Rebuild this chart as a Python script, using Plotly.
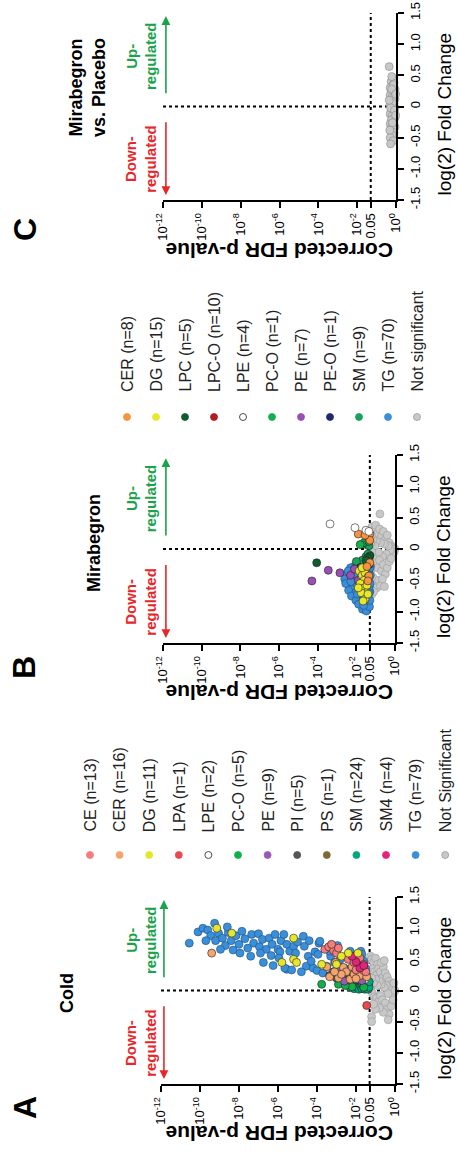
import math
import plotly.graph_objects as go

W, H = 457, 1154
FONT = "Liberation Sans"

# ---------------- DATA: (-log10 FDR p, log2 fold change) ----------------
# Panel A: Cold
A_CE = [(3.6,0.66),(3.4,0.70),(3.15,0.64),(3.0,0.60),(3.25,0.74),(2.9,0.68),(2.4,0.50),(2.1,0.45),
        (1.8,0.52),(1.6,0.42),(2.0,0.33),(1.5,0.30),(1.75,0.38)]
A_CER = [(9.4,0.60),(3.5,0.38),(2.9,0.20),(3.35,0.22),(2.65,0.37),(2.5,0.30),(2.3,0.18),(2.1,0.26),
         (1.8,0.24),(1.45,0.22),(1.6,0.32),(2.0,0.19),(2.75,0.26),(3.1,0.30),(3.05,0.45),(2.2,0.38)]
A_DG = [(9.14,1.0),(8.37,0.92),(5.2,0.84),(5.8,0.45),(5.2,0.50),(5.05,0.45),(3.76,0.42),
        (2.4,0.60),(1.9,0.60),(3.0,0.42),(2.75,0.55)]
A_LPA = [(1.45,-0.24)]
A_LPE = [(1.55,0.18),(2.45,0.22)]
A_PCO = [(3.76,0.10),(2.9,0.10),(2.2,0.06),(1.6,0.05),(2.55,0.08)]
A_PE = [(3.15,0.30),(2.95,0.28),(2.7,0.25),(2.4,0.33),(2.85,0.38),(1.9,0.28),(2.15,0.20),(2.6,0.15),(1.7,0.16)]
A_PI = [(3.35,0.24),(3.0,0.20),(2.5,0.18),(1.95,0.17),(2.3,0.26)]
A_PS = [(2.05,0.22)]
A_SM = [(2.3,0.05),(2.2,0.12),(2.1,0.03),(2.05,0.09),(2.0,0.14),(1.95,0.05),(1.9,0.10),(1.85,0.02),
        (1.8,0.13),(1.75,0.07),(1.7,0.03),(1.68,0.11),(1.62,0.06),(1.58,0.14),(1.55,0.02),(1.5,0.09),
        (1.47,0.04),(1.44,0.12),(1.4,0.07),(1.38,0.02),(1.35,0.10),(1.33,0.05),(1.32,0.14),(2.15,0.15)]
A_SM4 = [(1.8,0.36),(2.0,0.46),(1.6,0.40),(2.2,0.55)]
A_TG = [(10.55,0.76),(10.1,0.94),(9.85,1.00),(9.25,1.08),(9.6,0.97),(9.45,0.88),(9.05,0.92),(9.2,0.80),
        (8.85,0.84),(8.7,0.72),(8.95,0.66),(8.55,0.93),(8.4,0.80),(8.15,0.88),(8.0,0.74),(7.85,0.95),
        (7.7,0.83),(7.55,0.68),(7.35,0.90),(7.25,0.76),(7.0,0.91),(6.95,0.70),(6.8,0.82),(6.6,0.66),
        (6.45,0.84),(6.3,0.74),(6.15,0.90),(6.0,0.66),(5.85,0.80),(5.7,0.90),(5.55,0.74),(5.4,0.63),
        (5.9,0.62),(6.75,0.45),(6.25,0.40),(5.55,0.34),(5.65,0.36),(5.3,0.33),(4.55,0.39),(4.2,0.36),
        (4.0,0.32),(3.5,0.39),(4.7,0.87),(5.2,0.71),(4.65,0.71),(5.0,0.78),(4.4,0.80),(3.9,0.76),
        (4.1,0.62),(3.3,0.55),(3.1,0.45),(3.35,0.63),(2.3,0.63),(1.75,0.63),(1.7,0.58),(2.8,0.50),
        (4.45,0.55),(4.8,0.30),(3.7,0.28),(2.6,0.36),(2.1,0.40),(1.6,0.47),(9.7,0.80),(8.3,0.65),
        (7.95,0.60),(6.9,0.60),(6.35,0.56),(5.95,0.52),(7.4,0.55),(5.1,0.60),(4.3,0.47),(3.95,0.58),
        (2.95,0.72),(1.95,0.32),(2.2,0.22),(1.5,0.35),(3.15,0.30),(8.6,1.02),(3.85,0.79)]
A_NS = [(1.25,0.55),(1.2,0.50),(1.1,0.45),(1.0,0.52),(0.9,0.42),(1.15,0.35),(1.05,0.30),(0.95,0.25),
        (0.85,0.35),(0.75,0.30),(0.65,0.20),(0.6,0.38),(0.5,0.28),(0.4,0.22),(0.3,0.15),(0.2,0.10),
        (0.1,0.05),(0.05,-0.02),(0.15,-0.08),(0.25,0.02),(0.35,-0.05),(0.45,0.08),(0.55,0.05),(0.7,0.10),
        (0.8,0.15),(0.9,0.08),(1.0,0.18),(1.1,0.12),(1.2,0.20),(1.25,0.02),(1.15,-0.05),(1.05,-0.10),
        (0.95,-0.12),(0.85,-0.18),(0.75,-0.08),(0.65,-0.15),(0.5,-0.20),(0.4,-0.30),(0.3,-0.38),
        (0.35,-0.47),(0.6,-0.35),(0.8,-0.28),(1.0,-0.30),(1.2,-0.42),(1.2,-0.50),(1.1,-0.22),
        (0.2,-0.25),(0.1,-0.15),(0.0,0.0),(0.05,0.12),(0.7,0.45),(0.55,0.48)]

# Panel B: Mirabegron
B_CER = [(1.9,0.24),(1.3,0.24),(1.3,0.14),(1.55,0.22),(1.3,-0.22),(1.35,-0.43),(1.4,-0.51),(1.45,-0.28)]
B_DG = [(1.85,-0.35),(1.7,-0.42),(1.55,-0.38),(1.4,-0.45),(1.6,-0.50),(1.8,-0.55),(1.6,-0.62),(1.45,-0.58),
        (1.5,-0.70),(1.75,-0.70),(1.55,-0.80),(1.4,-0.72),(1.65,-0.83),(1.9,-0.62),(1.7,-0.30)]
B_LPC = [(4.05,-0.22),(1.3,-0.11),(1.4,-0.14),(1.5,-0.18),(1.35,-0.25)]
B_LPCO = [(1.5,-0.35),(1.6,-0.45),(1.7,-0.55),(1.4,-0.6),(1.8,-0.4),(1.55,-0.5),(1.45,-0.42),
          (1.65,-0.62),(1.35,-0.35),(1.75,-0.3)]
B_LPE = [(3.36,0.40),(2.07,0.34),(1.5,0.3),(1.35,0.28)]
B_PCO = [(1.8,0.07)]
B_PE = [(3.45,-0.34),(2.85,-0.38),(4.3,-0.51),(2.3,-0.42),(1.9,-0.5),(2.1,-0.32),(1.6,-0.4)]
B_PEO = [(1.8,-0.30)]
B_SM = [(1.47,0.07),(1.35,0.05),(1.6,0.10),(1.3,-0.1),(1.5,-0.12),(1.7,-0.18),(1.4,-0.08),(2.0,-0.2),(1.35,0.12)]
B_TG = [(2.5,-0.40),(2.45,-0.50),(2.35,-0.58),(2.3,-0.45),(2.2,-0.35),(2.15,-0.62),(2.1,-0.52),(2.05,-0.70),
        (2.0,-0.42),(1.95,-0.30),(1.9,-0.60),(1.85,-0.75),(1.8,-0.50),(1.75,-0.38),(1.7,-0.82),(1.68,-0.96),
        (1.65,-0.65),(1.6,-0.55),(1.55,-0.72),(1.5,-0.45),(1.48,-0.99),(1.45,-0.85),(1.42,-0.62),(1.4,-0.35),
        (1.38,-0.78),(1.35,-0.52),(1.32,-0.92),(1.3,-0.68),(1.28,-0.42),(1.27,-0.28),(2.6,-0.48),(2.4,-0.66),
        (2.25,-0.75),(2.12,-0.28),(2.02,-0.82),(1.92,-0.45),(1.88,-0.88),(1.78,-0.62),(1.72,-0.25),(1.62,-0.90),
        (1.58,-0.35),(1.52,-0.58),(1.46,-0.72),(1.44,-0.22),(1.36,-0.45),(1.33,-0.60),(1.3,-0.82),(1.29,-0.55),
        (1.3,-0.3),(1.35,-0.18),(2.3,-0.3),(2.2,-0.48),(1.98,-0.55),(1.83,-0.33),(1.76,-0.70),(1.66,-0.48),
        (1.56,-0.82),(1.5,-0.65),(1.41,-0.50),(1.34,-0.70),(2.55,-0.55),(2.42,-0.35),(2.28,-0.52),(2.08,-0.40),
        (1.94,-0.72),(1.86,-0.55),(1.74,-0.45),(1.64,-0.28),(1.54,-0.40),(1.47,-0.30)]
B_NS = [(0.78,0.56),(1.2,0.35),(1.1,0.30),(1.0,0.38),(0.9,0.25),(0.8,0.32),(0.7,0.20),(0.6,0.28),(0.5,0.15),
        (0.4,0.22),(0.3,0.10),(0.2,0.05),(0.1,0.02),(0.0,0.0),(0.05,-0.05),(0.15,-0.10),(0.25,-0.02),
        (0.35,0.05),(0.45,-0.08),(0.55,0.08),(0.65,-0.12),(0.75,0.10),(0.85,-0.05),(0.95,0.12),(1.05,0.05),
        (1.15,0.15),(1.25,0.08),(1.2,-0.05),(1.1,-0.15),(1.0,-0.22),(0.9,-0.30),(0.8,-0.18),(0.7,-0.35),
        (0.6,-0.25),(0.5,-0.40),(0.4,-0.30),(0.3,-0.20),(0.2,-0.15),(1.25,-0.35),(1.15,-0.45),(1.05,-0.55),
        (0.95,-0.62),(0.85,-0.50),(0.75,-0.58),(1.2,-0.72),(1.1,-0.68),(0.65,-0.48),(0.55,-0.60),(1.22,0.22)]

# Panel C: Mirabegron vs. Placebo (all not significant)
C_NS = [(0.35,0.64),(0.15,0.45),(0.25,0.40),(0.1,0.38),(0.2,0.33),(0.3,0.30),(0.05,0.28),(0.15,0.25),
        (0.25,0.22),(0.1,0.20),(0.3,0.18),(0.2,0.15),(0.05,0.12),(0.15,0.10),(0.25,0.08),(0.1,0.05),
        (0.3,0.03),(0.2,0.0),(0.05,-0.02),(0.15,-0.05),(0.25,-0.08),(0.1,-0.10),(0.3,-0.12),(0.2,-0.15),
        (0.05,-0.18),(0.15,-0.20),(0.25,-0.22),(0.1,-0.25),(0.3,-0.28),(0.2,-0.30),(0.05,-0.33),(0.15,-0.36),
        (0.25,-0.40),(0.1,-0.42),(0.2,-0.46),(0.3,-0.50),(0.15,-0.55),(0.28,-0.60),(0.12,0.35),(0.22,0.28),
        (0.08,0.15),(0.18,0.06),(0.28,-0.02),(0.08,-0.06),(0.18,-0.26),(0.02,-0.14),(0.32,-0.38),(0.22,0.48),
        (0.35,0.1),(0.02,0.2)]

A_SERIES = [("CE", A_CE, "#f47c7c"), ("CER", A_CER, "#f4a46e"), ("DG", A_DG, "#e6e62a"),
            ("LPA", A_LPA, "#e84a4f"), ("LPE", A_LPE, "#ffffff"), ("PC-O", A_PCO, "#12b04b"),
            ("PE", A_PE, "#9b59b6"), ("PI", A_PI, "#555555"), ("PS", A_PS, "#7d6b35"),
            ("SM", A_SM, "#00a77c"), ("SM4", A_SM4, "#e6217c"), ("TG", A_TG, "#3b8fd9")]
A_NS_LABEL = "Not Significant"
A_DRAW_ORDER = ["TG", "SM", "PC-O", "LPE", "PS", "PI", "PE", "CER", "CE", "SM4", "DG", "LPA"]
B_SERIES = [("CER", B_CER, "#f7923e"), ("DG", B_DG, "#e8e82a"), ("LPC", B_LPC, "#0f5c2e"),
            ("LPC-O", B_LPCO, "#b01c24"), ("LPE", B_LPE, "#ffffff"), ("PC-O", B_PCO, "#13b04b"),
            ("PE", B_PE, "#9a4fb5"), ("PE-O", B_PEO, "#1f2a6b"), ("SM", B_SM, "#17a35a"),
            ("TG", B_TG, "#3b8fd9")]
B_NS_LABEL = "Not significant"
B_DRAW_ORDER = ["LPC-O", "TG", "SM", "PC-O", "LPC", "PE-O", "PE", "DG", "CER", "LPE"]
NS_COLOR = "#c8c8c8"

P_TICKS = [-12, -10, -8, -6, -4, -2, math.log10(0.05), 0]
P_TICKTEXT = ["10<sup>-12</sup>", "10<sup>-10</sup>", "10<sup>-8</sup>", "10<sup>-6</sup>",
              "10<sup>-4</sup>", "10<sup>-2</sup>", "0.05", "10<sup>0</sup>"]
FC_TICKS = [-1.5, -1.0, -0.5, 0, 0.5, 1.0, 1.5]
FC_TICKTEXT = ["-1.5", "-1.0", "-0.5", "0", "0.5", "1.0", "1.5"]

# ---------------- LAYOUT GEOMETRY (pixels in the 457x1154 page) ----------------
PANELS = {
    "A": dict(ax="x", ay="y", xpx=(161, 395), ypx=(1084, 897)),
    "B": dict(ax="x2", ay="y2", xpx=(163, 395), ypx=(643, 455)),
    "C": dict(ax="x3", ay="y3", xpx=(163, 396), ypx=(200, 13)),
}


def px(xp):
    return xp / W


def py(yp):
    return 1 - yp / H


fig = go.Figure()


def add_points(points, color, axes, edge="#333333", size=8):
    xs = [-p for p, f in points]
    ys = [f for p, f in points]
    fig.add_trace(go.Scatter(x=xs, y=ys, mode="markers", xaxis=axes[0], yaxis=axes[1],
                             marker=dict(size=size, color=color, line=dict(color=edge, width=0.6)),
                             showlegend=False, hoverinfo="skip", cliponaxis=False))


def draw_panel(series, ns, order, panel):
    axes = (panel["ax"], panel["ay"])
    add_points(ns, NS_COLOR, axes, edge="#9a9a9a")
    lookup = {n: (pts, col) for n, pts, col in series}
    for name in order:
        pts, col = lookup[name]
        add_points(pts, col, axes, edge="#1c4f80" if name == "TG" else "#222222")


draw_panel(A_SERIES, A_NS, A_DRAW_ORDER, PANELS["A"])
draw_panel(B_SERIES, B_NS, B_DRAW_ORDER, PANELS["B"])
add_points(C_NS, NS_COLOR, (PANELS["C"]["ax"], PANELS["C"]["ay"]), edge="#8a8a8a")

# Legends (manual, rotated text); markers on a transparent full-page pixel axis
LEG_A = dict(x0=90, dx=29.6, ymark=855, ytext=834)
LEG_B = dict(x0=127, dx=29.0, ymark=417, ytext=394)

annotations = []


def ann(x, y, text, size, color="black", angle=-90, xanchor="center", yanchor="middle"):
    annotations.append(dict(x=px(x), y=py(y), xref="paper", yref="paper", text=text, showarrow=False,
                            textangle=angle, xanchor=xanchor, yanchor=yanchor,
                            font=dict(family=FONT, size=size, color=color)))


def legend(series, ns_label, geo):
    entries = [(f"{n} (n={len(p)})", c) for n, p, c in series] + [(ns_label, NS_COLOR)]
    xs = [geo["x0"] + i * geo["dx"] for i in range(len(entries))]
    cols = [c for _, c in entries]
    edges = ["#9a9a9a" if c == NS_COLOR else ("#222222" if c == "#ffffff" else c) for c in cols]
    fig.add_trace(go.Scatter(x=xs, y=[geo["ymark"]] * len(xs), mode="markers", xaxis="x4", yaxis="y4",
                             marker=dict(size=7, color=cols, line=dict(color=edges, width=0.8)),
                             showlegend=False, hoverinfo="skip", cliponaxis=False))
    for (lab, _), x in zip(entries, xs):
        ann(x, geo["ytext"], lab, 16, color="#222222", yanchor="bottom")


legend(A_SERIES, A_NS_LABEL, LEG_A)
legend(B_SERIES, B_NS_LABEL, LEG_B)

layout_axes = {}
shapes = []
for i, (key, p) in enumerate(PANELS.items()):
    sfx = "" if i == 0 else str(i + 1)
    layout_axes["xaxis" + sfx] = dict(
        domain=[px(p["xpx"][0]), px(p["xpx"][1])], anchor=p["ay"], range=[-12, 0],
        tickvals=P_TICKS, ticktext=P_TICKTEXT, tickangle=-90, ticks="outside", ticklen=6,
        tickwidth=1.5, tickcolor="black", showline=True, linewidth=2, linecolor="black",
        showgrid=False, zeroline=False, automargin=False,
        tickfont=dict(family=FONT, size=13, color="black"))
    layout_axes["yaxis" + sfx] = dict(
        domain=[py(p["ypx"][0]), py(p["ypx"][1])], anchor=p["ax"], side="right", range=[-1.5, 1.5],
        tickvals=FC_TICKS, ticktext=FC_TICKTEXT, tickangle=-90, ticks="outside", ticklen=6,
        tickwidth=1.5, tickcolor="black", showline=True, linewidth=2, linecolor="black",
        showgrid=False, zeroline=False, automargin=False,
        tickfont=dict(family=FONT, size=13, color="black"))
    shapes.append(dict(type="line", xref=p["ax"], yref=p["ay"], x0=-12, x1=0, y0=0, y1=0,
                       line=dict(color="black", width=2, dash="dot"), layer="below"))
    lx = math.log10(0.05)
    shapes.append(dict(type="line", xref=p["ax"], yref=p["ay"], x0=lx, x1=lx, y0=-1.5, y1=1.5,
                       line=dict(color="black", width=2, dash="dot"), layer="below"))
    # arrows
    annotations.append(dict(x=-11.85, y=1.45, ax=-11.85, ay=0.19, xref=p["ax"], yref=p["ay"],
                            axref=p["ax"], ayref=p["ay"], text="", showarrow=True, arrowhead=2,
                            arrowsize=1.1, arrowwidth=1.6, arrowcolor="#1aa34a"))
    annotations.append(dict(x=-11.85, y=-1.42, ax=-11.85, ay=-0.23, xref=p["ax"], yref=p["ay"],
                            axref=p["ax"], ayref=p["ay"], text="", showarrow=True, arrowhead=2,
                            arrowsize=1.1, arrowwidth=1.6, arrowcolor="#e8262a"))
    ymid = (p["ypx"][0] + p["ypx"][1]) / 2
    yspan = p["ypx"][0] - p["ypx"][1]
    ann(141, ymid - yspan * 0.27, "<b>Up-<br>regulated</b>", 15, color="#1aa34a")
    ann(141, ymid + yspan * 0.28, "<b>Down-<br>regulated</b>", 15, color="#e8262a")
    # axis titles
    ann(279, p["ypx"][0] + 50, "<b>Corrected FDR p-value</b>", 21, angle=180)
    ann(444, ymid + 8, "log(2) Fold Change", 19)

layout_axes["xaxis4"] = dict(domain=[0, 1], range=[0, W], visible=False, anchor="y4", automargin=False)
layout_axes["yaxis4"] = dict(domain=[0, 1], range=[H, 0], visible=False, anchor="x4", automargin=False)

TITLES = [("<b>Cold</b>", 67, 993), ("<b>Mirabegron</b>", 94, 543), ("<b>Mirabegron<br>vs. Placebo</b>", 87, 88)]
for t, x, y in TITLES:
    ann(x, y, t, 18)
LETTERS = [("A", 25, 1108), ("B", 24, 668), ("C", 25, 230)]
for t, x, y in LETTERS:
    ann(x, y, f"<b>{t}</b>", 32)

fig.update_layout(width=W, height=H, margin=dict(l=0, r=0, t=0, b=0, autoexpand=False),
                  paper_bgcolor="white", plot_bgcolor="rgba(0,0,0,0)", showlegend=False,
                  shapes=shapes, annotations=annotations, **layout_axes)
fig.write_html("out.html", config={"displayModeBar": False},
               post_script="document.body.style.margin='0';")
